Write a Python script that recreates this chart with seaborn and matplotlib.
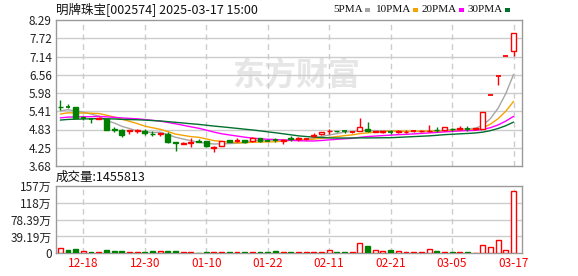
import numpy as np
import pandas as pd
import matplotlib
matplotlib.use("Agg")
import matplotlib.pyplot as plt
import seaborn as sns

title = "明牌珠宝[002574] 2025-03-17 15:00"
vol_title = "成交量:1455813"

dates = ["12-13", "12-16", "12-17", "12-18", "12-19", "12-20", "12-23", "12-24", "12-25", "12-26",
         "12-27", "12-30", "12-31", "01-02", "01-03", "01-06", "01-07", "01-08", "01-09", "01-10",
         "01-13", "01-14", "01-15", "01-16", "01-17", "01-20", "01-21", "01-22", "01-23", "01-24",
         "01-27", "02-05", "02-06", "02-07", "02-10", "02-11", "02-12", "02-13", "02-14", "02-17",
         "02-18", "02-19", "02-20", "02-21", "02-24", "02-25", "02-26", "02-27", "02-28", "03-03",
         "03-04", "03-05", "03-06", "03-07", "03-10", "03-11", "03-12", "03-13", "03-14", "03-17"]

open_ = [5.55, 5.55, 5.53, 5.20, 5.17, 5.16, 5.16, 4.85, 4.82, 4.79,
         4.79, 4.80, 4.70, 4.69, 4.70, 4.45, 4.38, 4.41, 4.47, 4.47,
         4.25, 4.32, 4.50, 4.48, 4.50, 4.46, 4.55, 4.49, 4.51, 4.48,
         4.56, 4.54, 4.52, 4.64, 4.68, 4.78, 4.79, 4.78, 4.74, 4.80,
         4.84, 4.76, 4.75, 4.76, 4.74, 4.74, 4.76, 4.77, 4.77, 4.83,
         4.82, 4.86, 4.85, 4.86, 4.85, 4.85, 5.92, 6.51, 7.16, 7.30]
high = [5.76, 5.64, 5.55, 5.25, 5.20, 5.22, 5.17, 4.90, 4.85, 4.82,
        4.85, 4.84, 4.79, 4.72, 4.76, 4.45, 4.43, 4.55, 4.53, 4.48,
        4.30, 4.48, 4.50, 4.57, 4.51, 4.58, 4.56, 4.52, 4.56, 4.53,
        4.64, 4.61, 4.55, 4.73, 4.76, 4.86, 4.80, 4.80, 4.78, 5.19,
        5.08, 4.80, 4.80, 4.81, 4.81, 4.81, 4.79, 4.82, 4.97, 4.91,
        4.91, 4.88, 4.93, 4.95, 4.89, 5.38, 5.92, 6.51, 7.16, 7.88]
low = [5.45, 5.52, 5.18, 5.12, 5.03, 5.15, 4.82, 4.74, 4.58, 4.68,
       4.71, 4.66, 4.64, 4.63, 4.42, 4.16, 4.36, 4.29, 4.44, 4.28,
       4.11, 4.31, 4.45, 4.45, 4.42, 4.44, 4.45, 4.46, 4.45, 4.37,
       4.47, 4.48, 4.50, 4.59, 4.67, 4.70, 4.74, 4.73, 4.73, 4.79,
       4.76, 4.75, 4.73, 4.70, 4.71, 4.72, 4.74, 4.76, 4.76, 4.76,
       4.80, 4.78, 4.82, 4.80, 4.83, 4.84, 5.92, 6.24, 7.16, 7.14]
close = [5.53, 5.54, 5.18, 5.19, 5.16, 5.20, 4.83, 4.82, 4.66, 4.81,
         4.82, 4.71, 4.68, 4.71, 4.43, 4.41, 4.42, 4.43, 4.45, 4.30,
         4.27, 4.47, 4.45, 4.50, 4.44, 4.57, 4.48, 4.48, 4.50, 4.50,
         4.54, 4.56, 4.53, 4.66, 4.75, 4.80, 4.77, 4.77, 4.75, 4.90,
         4.77, 4.78, 4.77, 4.75, 4.77, 4.76, 4.77, 4.79, 4.79, 4.81,
         4.90, 4.84, 4.87, 4.85, 4.88, 5.38, 5.92, 6.51, 7.16, 7.88]
# closes of the 29 sessions before the window (seed the moving averages)
pre_close = [4.92, 4.95, 5.01, 4.98, 5.03, 4.97, 5.00, 5.04, 5.02, 4.98,
             5.05, 5.10, 5.06, 5.12, 5.04, 5.08, 5.11, 5.07, 5.09, 5.08,
             5.15, 5.20, 5.24, 5.22, 5.29, 5.35, 5.40, 5.36, 5.46]
# volume in 万 (10k shares)
volume_wan = [11.4, 7.6, 9.1, 5.3, 3.0, 3.0, 7.6, 5.3, 5.3, 3.0,
              3.0, 3.0, 5.3, 5.3, 5.3, 5.3, 3.0, 3.0, 1.5, 3.0,
              3.0, 3.0, 3.0, 2.5, 3.0, 3.0, 3.0, 3.0, 5.3, 3.0,
              3.0, 3.0, 3.0, 3.0, 3.0, 7.6, 3.0, 3.0, 3.0, 23.6,
              16.7, 7.6, 5.3, 7.6, 5.3, 3.0, 3.0, 3.0, 9.1, 5.3,
              3.0, 3.0, 3.0, 3.0, 1.0, 18.3, 14.5, 32.0, 7.6, 145.5813]
# volume bar colour as shown (1 = red/up, 0 = green/down)
volume_up = [1, 0, 0, 1, 0, 1, 0, 0, 0, 1,
             1, 0, 0, 1, 0, 0, 1, 1, 0, 0,
             1, 1, 0, 1, 0, 1, 0, 0, 0, 1,
             0, 1, 1, 1, 1, 1, 0, 0, 1, 1,
             0, 1, 1, 0, 1, 1, 1, 1, 1, 0,
             1, 0, 1, 0, 1, 1, 1, 1, 1, 1]

ma_periods = [5, 10, 20, 30]
ma_names = ["5PMA", "10PMA", "20PMA", "30PMA"]
ma_colors = ["#a6a6a6", "#f5a300", "#ff00ff", "#00702e"]

price_ticks = ["3.68", "4.25", "4.83", "5.41", "5.98", "6.56", "7.14", "7.72", "8.29"]
vol_ticks = ["0", "39.19万", "78.39万", "118万", "157万"]
date_ticks = ["12-18", "12-30", "01-10", "01-22", "02-11", "02-21", "03-05", "03-17"]

RED = "#ff0000"
GREEN = "#008000"

sns.set_theme(style="white")
plt.rcParams["font.family"] = ["Noto Sans CJK SC", "DejaVu Sans"]

n = len(close)
idx = np.arange(n)
all_close = pd.Series(pre_close + close)
df = pd.DataFrame({"i": idx})
for p, name in zip(ma_periods, ma_names):
    df[name] = all_close.rolling(p).mean().values[-n:]

fig = plt.figure(figsize=(5.78, 2.76), dpi=100)
W, H = 578, 276
ax = fig.add_axes([56 / W, 1 - 166 / H, 466 / W, 146 / H])
axv = fig.add_axes([56 / W, 1 - 253.3 / H, 466 / W, 67.6 / H])

xlim = (-0.56, 60.1)
pmin, pmax = 3.68, 8.29
vmax = 156.78e4

# watermark
ax.text((296 - 56) / 466, (166 - 77) / 146, "东方财富", transform=ax.transAxes, fontsize=23,
        fontweight="bold", color="#e6e6e6", ha="center", va="center", zorder=0)

# moving averages
for name, col in zip(ma_names, ma_colors):
    sns.lineplot(data=df, x="i", y=name, color=col, lw=1.0, ax=ax, zorder=2, legend=False)

bw = 0.64
for i in range(n):
    o, h, l, c = open_[i], high[i], low[i], close[i]
    up = c >= o
    col = RED if up else GREEN
    ax.vlines(i, l, h, color=col, lw=1, zorder=3)
    if abs(c - o) < 0.012:
        ax.hlines(c, i - bw / 2, i + bw / 2, color=col, lw=1.3, zorder=4)
    else:
        ax.bar(i, abs(c - o), bottom=min(o, c), width=bw,
               facecolor="white" if up else GREEN, edgecolor=col, lw=1, zorder=4)
    vup = volume_up[i] == 1
    axv.bar(i, volume_wan[i] * 1e4, width=bw, facecolor="white" if vup else GREEN,
            edgecolor=RED if vup else GREEN, lw=1, zorder=3)

tick_pos = [dates.index(d) for d in date_ticks]

for a in (ax, axv):
    a.set_xlim(*xlim)
    a.set_xticks(tick_pos)
    for x in tick_pos:
        a.axvline(x, color="#cccccc", lw=1, ls=(0, (4, 3)), zorder=1)
    for s in a.spines.values():
        s.set_color("#9a9a9a")
        s.set_linewidth(1)
    a.tick_params(length=0, pad=3)
    a.set_xlabel("")
    a.set_ylabel("")

ax.set_ylim(pmin, pmax)
pt = np.linspace(pmin, pmax, len(price_ticks))
ax.set_yticks(pt)
ax.set_yticklabels(price_ticks, fontsize=8.5, color="#222222")
for y in pt[1:-1]:
    ax.axhline(y, color="#cccccc", lw=1, zorder=1)
ax.set_xticklabels([])

axv.set_ylim(0, vmax)
vt = np.linspace(0, vmax, len(vol_ticks))
axv.set_yticks(vt)
axv.set_yticklabels(vol_ticks, fontsize=8.5, color="#222222")
for y in vt[1:-1]:
    axv.axhline(y, color="#cccccc", lw=1, zorder=1)
axv.set_xticklabels(date_ticks, fontsize=8.5, color=RED)

fig.text(56 / W, 1 - 10 / H, title, fontsize=9, ha="left", va="center", color="#111111")
fig.text(56 / W, 1 - 177 / H, vol_title, fontsize=9, ha="left", va="center", color="#111111")

# legend: squares at fixed spots, labels right-aligned before them
sq_x = [365, 413, 459, 505]
for x0, name, col in zip(sq_x, ma_names, ma_colors):
    fig.text((x0 - 2) / W, 1 - 10 / H, name, fontsize=8, ha="right", va="center",
             color="#111111", family=["Liberation Serif", "DejaVu Serif"])
    fig.patches.append(plt.Rectangle((x0 / W, 1 - 12 / H), 5 / W, 4 / H,
                                     transform=fig.transFigure, facecolor=col, edgecolor="none"))

fig.savefig("out.png", dpi=100)
